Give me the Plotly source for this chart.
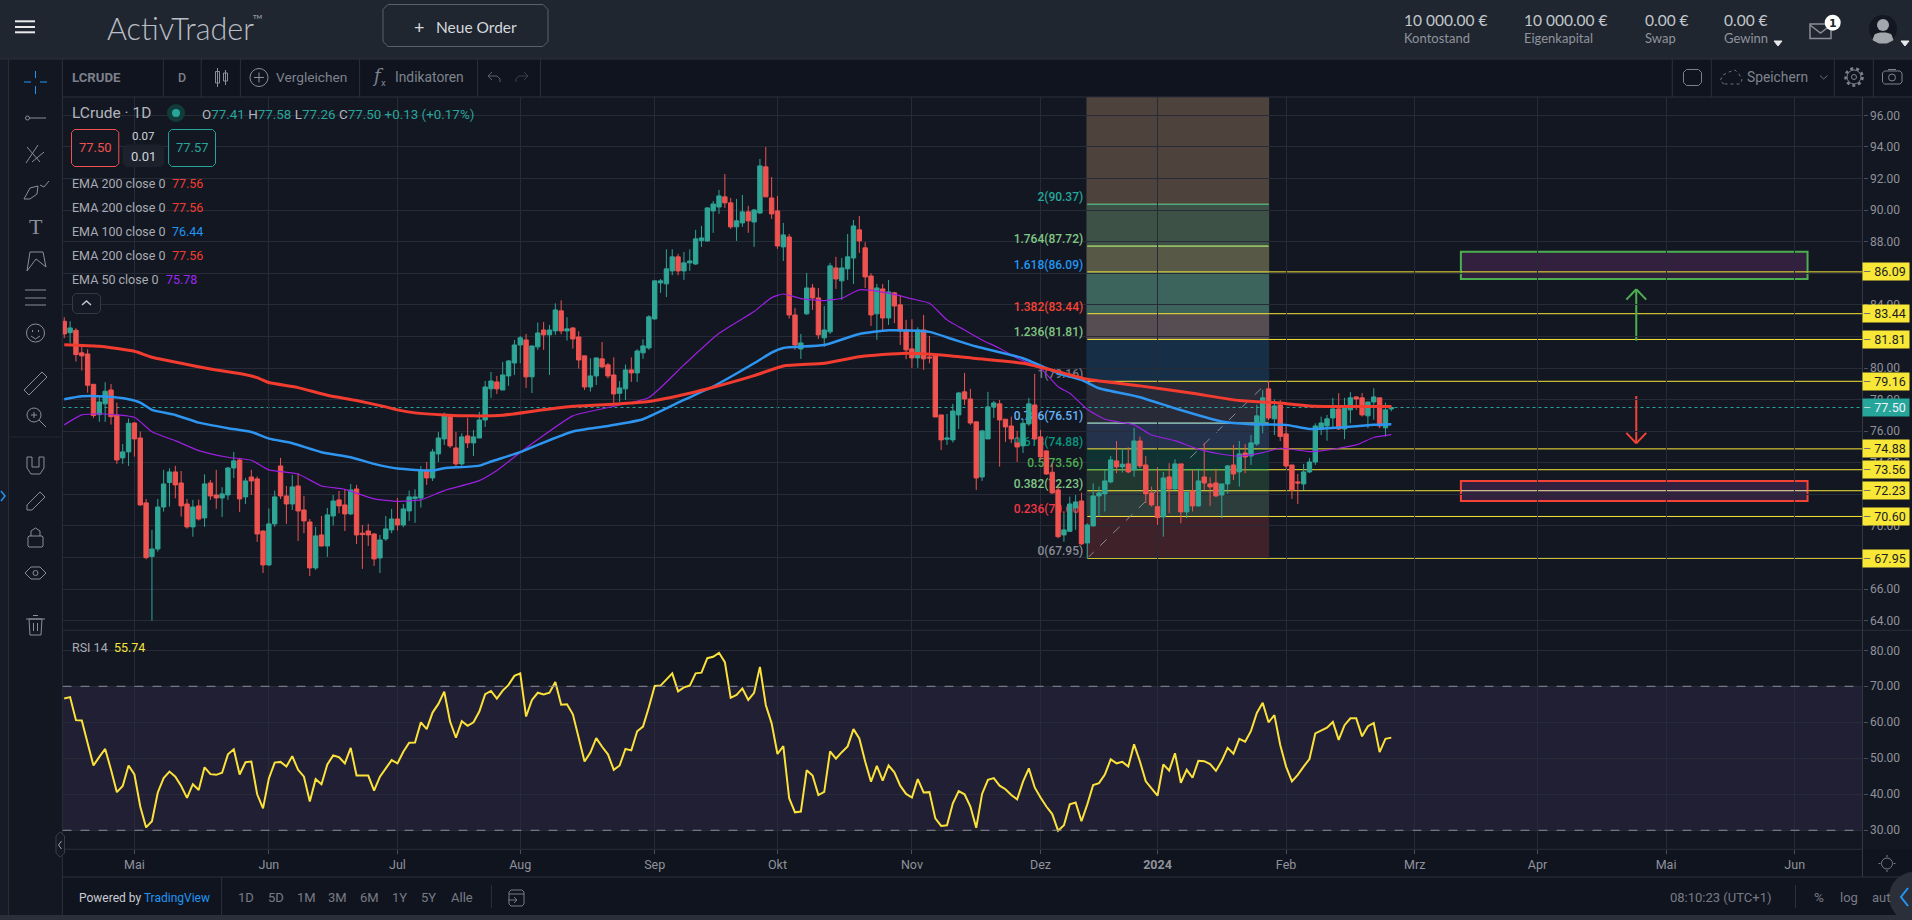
import plotly.graph_objects as go

W, H = 1912, 920

# daily candles, bar 0 is the first one at the left edge
opens = [
    82.96, 82.24, 82.39, 80.96, 80.89, 78.97, 77.05, 77.73, 78.61, 77.03,
    74.31, 74.69, 76.52, 75.57, 71.46, 68.06, 68.54, 71.20, 72.75, 73.42,
    72.72, 71.39, 69.94, 71.27, 70.51, 72.72, 71.96, 71.77, 71.96, 73.67,
    74.18, 71.84, 73.10, 72.98, 69.68, 67.53, 70.13, 73.80, 71.90, 71.39,
    72.53, 71.01, 70.25, 67.34, 69.43, 68.73, 70.63, 71.65, 71.33, 70.76,
    72.34, 69.54, 69.68, 69.49, 67.97, 69.18, 69.75, 70.44, 70.06, 70.95,
    71.73, 71.77, 73.55, 73.04, 74.56, 75.51, 76.97, 74.94, 73.93, 75.70,
    75.26, 75.57, 76.71, 78.68, 79.12, 78.61, 79.50, 80.32, 81.46, 81.78,
    79.44, 81.34, 82.41, 82.10, 82.35, 83.62, 82.35, 82.54, 81.97, 80.77,
    78.80, 79.50, 80.58, 80.20, 79.56, 78.40, 78.68, 79.88, 79.69, 80.96,
    81.27, 83.11, 85.39, 85.33, 86.15, 87.04, 86.15, 86.66, 86.59, 88.07,
    88.05, 89.95, 90.20, 90.84, 90.46, 88.94, 89.19, 89.89, 89.25, 89.82,
    92.74, 90.77, 89.95, 87.67, 88.30, 83.36, 81.21, 83.43, 85.07, 84.44,
    81.91, 82.29, 86.34, 85.52, 86.28, 86.97, 88.75, 87.61, 85.83, 83.43,
    85.01, 83.17, 84.76, 84.00, 82.41, 81.21, 80.64, 82.41, 80.70, 80.77,
    77.03, 75.49, 75.45, 77.03, 78.49, 78.04, 76.59, 73.10, 75.51, 77.54,
    77.73, 76.76, 76.33, 75.26, 75.07, 76.46, 77.66, 75.64, 74.75, 73.40,
    72.28, 69.43, 69.66, 71.14, 71.58, 68.92, 70.00, 71.90, 72.03, 72.79,
    74.12, 73.74, 73.93, 73.55, 75.38, 73.86, 72.09, 71.22, 70.57, 73.10,
    72.34, 73.93, 70.89, 72.22, 71.27, 73.10, 72.66, 72.72, 71.96, 72.66,
    73.86, 73.42, 74.62, 74.43, 75.19, 76.40, 78.68, 76.78, 77.66, 75.83,
    73.86, 72.79, 72.66, 73.42, 74.05, 76.14, 76.33, 76.84, 77.41, 76.14,
    77.35, 78.17, 78.11, 76.97, 77.85, 78.11, 76.21, 77.41,
]
highs = [
    83.22, 82.96, 82.52, 81.40, 81.19, 78.97, 78.25, 79.10, 78.99, 77.81,
    75.19, 76.80, 76.55, 75.98, 71.71, 69.75, 71.71, 73.55, 73.65, 73.80,
    73.48, 71.71, 71.65, 71.67, 73.27, 72.91, 73.55, 72.45, 73.74, 74.69,
    74.31, 73.04, 73.55, 73.13, 69.71, 71.10, 72.24, 74.31, 72.53, 73.23,
    73.34, 71.90, 70.44, 69.94, 70.63, 71.14, 71.96, 72.22, 72.34, 72.66,
    72.60, 70.06, 70.13, 69.54, 69.43, 70.63, 71.08, 71.77, 71.39, 72.24,
    72.32, 73.80, 74.05, 74.88, 75.95, 77.18, 77.03, 75.95, 75.87, 76.84,
    76.08, 77.22, 79.18, 79.75, 79.50, 80.39, 80.51, 81.78, 82.03, 82.16,
    81.40, 82.88, 82.92, 82.73, 84.10, 84.29, 83.22, 82.58, 82.33, 80.77,
    80.62, 80.66, 81.65, 80.32, 80.68, 79.18, 80.22, 80.68, 81.19, 81.82,
    83.34, 85.54, 85.64, 87.52, 87.52, 87.23, 87.35, 87.52, 88.75, 89.00,
    90.18, 90.58, 91.28, 92.29, 90.77, 90.71, 90.96, 90.27, 90.08, 93.24,
    94.00, 92.10, 90.90, 89.19, 88.49, 83.81, 82.16, 86.02, 85.33, 85.07,
    83.93, 86.66, 87.04, 86.97, 88.49, 89.38, 89.63, 87.97, 86.00, 85.33,
    85.33, 85.58, 84.82, 84.63, 83.05, 83.09, 82.58, 83.36, 82.03, 80.77,
    77.03, 77.09, 77.73, 78.49, 79.69, 78.68, 76.59, 76.08, 78.49, 77.92,
    77.98, 76.76, 76.93, 76.02, 76.76, 78.11, 79.63, 76.08, 74.81, 73.97,
    72.49, 70.80, 71.86, 71.96, 72.11, 70.17, 72.70, 72.49, 73.55, 74.43,
    75.38, 74.92, 74.98, 76.21, 75.66, 74.43, 72.49, 73.72, 73.42, 73.97,
    74.22, 73.93, 72.15, 73.55, 73.63, 75.24, 73.08, 73.63, 72.66, 73.86,
    75.13, 75.38, 75.19, 75.76, 77.68, 78.61, 79.18, 78.02, 77.98, 76.40,
    73.86, 73.29, 73.93, 74.29, 76.50, 76.92, 77.03, 78.11, 78.40, 78.11,
    78.47, 78.23, 78.42, 77.87, 78.72, 78.11, 77.81, 77.58,
]
lows = [
    81.89, 81.57, 80.41, 79.84, 78.44, 76.84, 76.59, 76.59, 76.42, 73.93,
    73.93, 73.80, 74.39, 71.27, 67.89, 64.00, 68.37, 70.91, 71.22, 71.75,
    70.59, 69.83, 69.32, 70.34, 69.94, 71.65, 71.08, 70.57, 71.65, 73.04,
    70.89, 71.39, 71.96, 68.99, 67.02, 67.47, 69.94, 71.71, 70.13, 71.01,
    69.05, 69.54, 66.83, 67.21, 68.69, 68.04, 70.04, 70.80, 69.68, 70.68,
    68.86, 67.28, 68.73, 67.47, 67.02, 69.05, 69.54, 69.71, 69.92, 70.32,
    70.19, 71.16, 72.60, 72.85, 74.05, 75.13, 74.94, 73.67, 73.80, 74.94,
    74.43, 75.57, 76.27, 78.11, 78.36, 78.61, 78.87, 79.56, 80.30, 78.74,
    78.42, 81.15, 81.15, 79.56, 82.10, 82.14, 81.74, 81.23, 79.97, 78.61,
    78.51, 78.93, 80.01, 79.35, 77.73, 77.85, 77.98, 79.12, 79.12, 80.58,
    81.15, 83.05, 84.76, 84.50, 85.88, 85.88, 85.58, 86.15, 86.53, 87.67,
    87.99, 88.56, 89.76, 90.14, 88.81, 88.05, 88.94, 88.56, 87.67, 89.76,
    90.84, 89.44, 87.54, 86.78, 83.13, 81.15, 80.58, 83.36, 83.68, 81.84,
    81.34, 82.16, 85.01, 84.31, 85.58, 85.33, 87.29, 85.07, 82.67, 81.78,
    82.31, 82.73, 82.84, 81.46, 80.56, 80.01, 80.01, 79.88, 80.30, 76.90,
    74.81, 75.13, 75.28, 76.14, 77.66, 76.40, 72.28, 72.85, 75.51, 76.84,
    73.76, 75.32, 75.24, 74.05, 74.62, 76.33, 75.45, 74.18, 73.23, 72.03,
    69.22, 69.00, 69.62, 69.75, 68.80, 67.95, 69.96, 70.59, 70.91, 72.70,
    73.34, 73.38, 73.34, 73.12, 73.65, 71.44, 71.22, 70.06, 69.32, 70.80,
    72.28, 70.17, 70.49, 70.91, 71.22, 72.28, 71.27, 71.82, 70.49, 72.03,
    72.91, 72.49, 73.34, 73.86, 75.07, 75.87, 76.71, 75.76, 75.38, 73.63,
    71.71, 71.39, 72.28, 73.34, 73.86, 75.76, 75.40, 76.19, 76.08, 75.49,
    76.50, 77.35, 76.93, 76.19, 76.72, 76.19, 75.66, 77.26,
]
closes = [
    82.16, 82.54, 80.85, 80.77, 78.91, 76.99, 77.85, 78.53, 76.92, 74.18,
    74.69, 76.50, 75.51, 71.33, 67.99, 68.54, 71.20, 72.66, 73.42, 72.60,
    71.27, 69.94, 71.20, 70.44, 72.66, 71.90, 71.77, 72.03, 73.67, 74.12,
    71.71, 72.85, 72.85, 69.49, 67.53, 70.13, 71.84, 71.90, 71.39, 72.47,
    70.95, 70.32, 67.34, 69.37, 68.73, 70.70, 71.58, 71.27, 70.76, 72.28,
    69.43, 69.45, 69.43, 67.91, 69.11, 69.81, 70.44, 70.06, 71.08, 71.84,
    71.84, 73.55, 73.04, 74.69, 75.57, 77.03, 75.07, 73.93, 75.64, 75.26,
    75.64, 76.71, 78.80, 79.18, 78.68, 79.56, 80.45, 81.46, 81.91, 79.44,
    81.40, 82.22, 82.10, 82.41, 83.68, 82.35, 82.48, 81.84, 80.51, 78.80,
    79.50, 80.64, 80.07, 79.50, 78.36, 78.74, 79.88, 79.69, 81.08, 81.40,
    83.24, 85.52, 85.52, 86.28, 87.04, 86.15, 86.66, 86.78, 88.18, 88.24,
    90.14, 90.39, 90.90, 90.46, 88.94, 89.32, 89.89, 89.32, 90.01, 92.80,
    90.84, 89.76, 87.73, 88.43, 83.36, 81.46, 81.59, 85.07, 84.44, 82.10,
    82.41, 86.47, 85.64, 86.34, 87.04, 89.00, 88.05, 85.77, 83.36, 85.07,
    83.17, 84.82, 83.93, 82.35, 81.15, 80.64, 82.41, 80.58, 80.64, 76.90,
    75.45, 75.57, 77.28, 78.42, 78.04, 76.52, 73.04, 76.02, 77.54, 77.79,
    76.71, 76.27, 75.51, 75.00, 76.50, 77.73, 75.51, 74.37, 73.29, 72.09,
    69.32, 69.75, 71.39, 71.52, 68.86, 70.06, 71.90, 72.09, 72.85, 74.18,
    73.74, 73.91, 73.42, 75.38, 73.80, 72.03, 71.33, 70.53, 73.04, 72.34,
    73.93, 70.89, 72.15, 71.27, 72.85, 72.72, 72.47, 71.90, 72.66, 73.80,
    73.29, 74.56, 74.37, 75.26, 76.97, 78.11, 76.84, 77.60, 75.66, 73.80,
    72.28, 72.72, 73.42, 74.05, 76.33, 76.52, 76.78, 77.41, 76.14, 77.47,
    78.11, 78.04, 77.03, 77.85, 78.17, 76.33, 77.35, 77.50,
]

rsi = [
    66.6, 67.0, 60.6, 60.5, 54.2, 48.0, 50.4, 52.6, 46.8, 40.6,
    42.3, 48.0, 45.5, 36.6, 30.8, 32.5, 40.5, 44.5, 46.3, 44.9,
    42.3, 39.0, 42.8, 41.2, 47.5, 45.6, 45.4, 46.0, 51.1, 52.5,
    45.5, 48.9, 49.1, 40.0, 36.1, 44.4, 48.8, 49.0, 47.7, 50.6,
    46.8, 44.9, 38.0, 44.2, 42.8, 48.3, 50.8, 50.3, 48.6, 52.9,
    45.2, 45.2, 45.2, 41.0, 44.9, 47.2, 49.5, 48.6, 51.8, 54.3,
    54.4, 60.0, 58.1, 62.7, 65.1, 68.5, 60.2, 55.7, 60.3, 59.0,
    60.0, 63.0, 67.8, 68.7, 66.6, 68.8, 70.4, 72.9, 73.6, 61.6,
    66.2, 68.2, 67.7, 68.2, 71.2, 64.9, 65.0, 62.2, 55.5, 49.1,
    51.6, 55.6, 53.2, 51.1, 46.8, 48.0, 52.6, 52.2, 57.5, 58.8,
    64.2, 70.1, 70.2, 71.9, 73.6, 68.6, 69.7, 70.2, 73.6, 73.8,
    77.8, 78.2, 79.3, 76.7, 66.8, 67.6, 69.4, 66.2, 68.2, 75.4,
    64.8, 59.7, 51.2, 53.4, 38.9, 35.0, 35.2, 46.7, 45.2, 39.8,
    40.7, 51.9, 49.9, 51.7, 53.3, 58.1, 55.5, 49.1, 43.5, 47.9,
    43.8, 48.0, 46.1, 42.4, 40.1, 39.1, 44.2, 40.5, 40.6, 33.3,
    31.2, 31.4, 37.5, 40.9, 40.0, 36.6, 30.7, 40.1, 44.0, 44.5,
    42.4, 41.4, 39.8, 38.6, 43.5, 47.2, 41.9, 39.1, 36.6, 34.5,
    29.9, 31.4, 37.2, 37.7, 32.5, 37.2, 42.6, 43.1, 45.5, 49.7,
    48.6, 49.0, 47.7, 53.9, 49.1, 43.6, 41.7, 39.6, 48.3, 46.6,
    51.4, 43.2, 46.8, 44.6, 49.3, 49.2, 48.4, 46.5, 49.3, 52.9,
    51.3, 55.4, 54.6, 57.6, 62.6, 65.4, 60.0, 62.0, 53.7, 47.7,
    43.6, 45.4, 47.7, 49.8, 56.9, 57.6, 58.5, 60.1, 55.1, 59.2,
    61.1, 61.1, 56.1, 58.9, 59.8, 51.7, 55.4, 55.74,
]

ema200_bars = [0, 6, 12, 15, 20, 25, 30, 33, 35, 40, 45, 50, 55, 57, 60, 65, 70, 75, 81, 87, 94, 100,
               107, 111, 118, 123, 130, 136, 144, 150, 156, 164, 170, 175, 184, 193, 201, 207, 213, 218, 227]
ema200 = [81.48, 81.38, 81.06, 80.68, 80.30, 79.94, 79.65, 79.39, 79.08, 78.76, 78.28, 77.94, 77.54, 77.35,
          77.16, 77.03, 76.97, 77.01, 77.31, 77.58, 77.71, 77.88, 78.40, 78.78, 79.52, 80.13, 80.30, 80.72,
          80.94, 80.83, 80.60, 80.30, 79.77, 79.29, 78.87, 78.40, 77.94, 77.81, 77.60, 77.56, 77.56]
ema100_bars = [0, 3, 7, 11, 13, 15, 19, 23, 28, 32, 35, 39, 44, 49, 53, 57, 63, 65, 71, 73, 78, 81, 87, 93, 99,
               106, 111, 118, 121, 123, 130, 136, 141, 148, 152, 156, 164, 170, 174, 177, 184, 190, 198, 203,
               209, 213, 218, 224, 227]
ema100 = [78.02, 78.21, 78.19, 78.02, 77.81, 77.35, 77.03, 76.54, 76.19, 75.95, 75.53, 75.24, 74.67, 74.35,
          73.93, 73.63, 73.51, 73.65, 73.82, 74.08, 74.67, 75.13, 75.98, 76.33, 76.76, 77.98, 78.83, 80.30,
          80.98, 81.27, 81.46, 82.16, 82.39, 82.29, 81.82, 81.36, 80.62, 79.67, 79.25, 78.72, 78.15, 77.45,
          76.61, 76.44, 76.40, 76.14, 76.23, 76.40, 76.44]
ema50_bars = [0, 3, 7, 12, 15, 19, 23, 28, 32, 35, 40, 44, 48, 53, 57, 61, 65, 71, 74, 78, 81, 87, 93, 100, 106,
              112, 118, 121, 123, 126, 130, 133, 136, 141, 145, 148, 151, 154, 157, 160, 163, 167, 170, 172,
              175, 178, 183, 186, 190, 194, 198, 201, 205, 208, 213, 215, 221, 224, 227]
ema50 = [76.40, 77.03, 77.09, 76.88, 75.97, 75.40, 74.77, 74.35, 74.16, 73.55, 73.29, 72.53, 72.32, 71.71,
         71.56, 71.65, 72.24, 72.87, 73.51, 74.65, 75.47, 76.97, 77.50, 78.13, 80.20, 82.20, 83.58, 84.46,
         84.69, 84.40, 84.27, 84.42, 84.95, 84.74, 84.38, 84.10, 83.05, 82.41, 81.78, 81.25, 80.62, 79.99,
         78.82, 78.40, 77.39, 76.76, 76.40, 75.76, 75.40, 74.86, 74.54, 74.43, 74.64, 74.92, 74.71, 74.75,
         75.13, 75.60, 75.78]

month_bars = [12, 35, 57, 78, 101, 122, 145, 167, 187, 209, 231, 252, 274, 296]
month_labels = ["Mai", "Jun", "Jul", "Aug", "Sep", "Okt", "Nov", "Dez", "<b>2024</b>", "Feb", "Mrz", "Apr", "Mai", "Jun"]
price_ticks = [64, 66, 68, 70, 72, 74, 76, 78, 80, 82, 84, 86, 88, 90, 92, 94, 96]
rsi_ticks = [30, 40, 50, 60, 70, 80]

fib_ratios = ["2", "1.764", "1.618", "1.382", "1.236", "1", "0.786", "0.618", "0.5", "0.382", "0.236", "0"]
fib_levels = [90.37, 87.72, 86.09, 83.44, 81.81, 79.16, 76.51, 74.88, 73.56, 72.23, 70.60, 67.95]
fib_label_colors = ["#26a69a", "#81c784", "#2196f3", "#f44336", "#81c784", "#787b86",
                    "#64b5f6", "#089981", "#4caf50", "#81c784", "#f23645", "#8a8d96"]
fib_zone_colors = ["#51453e", "#3f5449", "#5b5c47", "#40685f", "#585053", "#183049",
                   "#2a2c38", "#27344e", "#103534", "#213a30", "#2f3f3c", "#42222a"]
yellow_levels = [86.09, 83.44, 81.81, 79.16, 74.88, 73.56, 72.23, 70.60, 67.95]

FIB_START, FIB_END = 175, 206
LAST_BAR = 227
X_RANGE = [-0.3, 307.6]
PRICE_RANGE = [63.39, 97.165]
RSI_RANGE = [24.72, 85.36]

BG = "#131722"
GRID = "#272b37"
HEADER = "#1f2630"
TOOLBAR = "#10141f"
SEP = "#2c303c"
GRAY = "#8a8e98"
LIGHT = "#b2b5be"
UP = "#2fa596"
DOWN = "#ef5350"
YELLOW = "#f8e737"
TEAL = "#26a69a"


def fx(x):
    return x / W


def fy(y):
    return 1 - y / H


shapes = []
notes = []


def rect(x0, y0, x1, y1, fill="rgba(0,0,0,0)", line=None, width=1, layer="above"):
    shapes.append(dict(type="rect", xref="paper", yref="paper", x0=fx(x0), x1=fx(x1), y0=fy(y0), y1=fy(y1),
                       fillcolor=fill, line=dict(color=line or fill, width=width if line else 0), layer=layer))


def seg(x0, y0, x1, y1, color=SEP, width=1, layer="above"):
    shapes.append(dict(type="line", xref="paper", yref="paper", x0=fx(x0), x1=fx(x1), y0=fy(y0), y1=fy(y1),
                       line=dict(color=color, width=width), layer=layer))


def circle(cx, cy, r, fill="rgba(0,0,0,0)", line=None, width=1, dash="solid"):
    shapes.append(dict(type="circle", xref="paper", yref="paper", x0=fx(cx - r), x1=fx(cx + r),
                       y0=fy(cy - r), y1=fy(cy + r), fillcolor=fill,
                       line=dict(color=line or fill, width=width if line else 0, dash=dash), layer="above"))


def poly(pts, color=GRAY, width=1, fill=None, closed=False):
    d = "M" + " L".join(f"{fx(x):.5f},{fy(y):.5f}" for x, y in pts) + (" Z" if closed else "")
    shapes.append(dict(type="path", xref="paper", yref="paper", path=d, layer="above",
                       fillcolor=fill or "rgba(0,0,0,0)", line=dict(color=color, width=width)))


def round_rect(x0, y0, x1, y1, r=4, line=GRAY, fill=None, width=1):
    pts = [(x0 + r, y0), (x1 - r, y0), (x1, y0 + r), (x1, y1 - r), (x1 - r, y1), (x0 + r, y1), (x0, y1 - r), (x0, y0 + r)]
    poly(pts, line, width, fill, True)


def txt(x, y, s, size=12, color=LIGHT, anchor="left", family="Roboto", weight=None):
    font = dict(family=family, size=size, color=color)
    if weight:
        font["weight"] = weight
    notes.append(dict(xref="paper", yref="paper", x=fx(x), y=fy(y), text=s, showarrow=False, xanchor=anchor,
                      yanchor="middle", font=font, borderpad=0, borderwidth=0))


# ---- window chrome ----
rect(0, 0, W, 59, HEADER, layer="below")
rect(0, 59, 8.6, 915, "#171b27", layer="below")
rect(8.6, 59, 62.4, 915, "#131722", layer="below")
rect(62.4, 59, W, 97, TOOLBAR, layer="below")
rect(62.4, 849, W, 915, TOOLBAR, layer="below")
rect(0, 915, W, H, "#2a2f3a", layer="below")
rect(1863, 97, W, 849, "#131722", layer="below")

seg(0, 59, W, 59, "#2c313b")
seg(8.6, 59, 8.6, 915)
seg(62.4, 59, 62.4, 915)
seg(62.4, 97, W, 97)
seg(62.4, 877, W, 877)
seg(62.4, 630.3, W, 630.3, "#2a2e3a")
seg(62.4, 849.3, 1862.5, 849.3, "#2a2e3a")
seg(1862.5, 97, 1862.5, 877, "#343844")
for x in [163.3, 201.2, 240.4, 359.6, 477.6, 540.4, 1672.3, 1711.3, 1834.3, 1873.3]:
    seg(x, 59, x, 97)
seg(221.6, 877, 221.6, 915)
seg(491.4, 885, 491.4, 908)
seg(1795.5, 885, 1795.5, 908)

# top bar
for y in (21.3, 27, 32.3):
    seg(15, y, 35, y, "#e8e9eb", 2)
txt(107, 28, "ActivTrader", 30.5, "#b9bdc4", family="Lato", weight=300)
txt(253, 17, "TM", 6, "#b9bdc4", family="Lato")
round_rect(383, 4.5, 548, 46.5, 5, "#5b6270")
txt(419, 27, "+", 18, "#d5d8dc", "center", "Lato")
txt(436, 27, "Neue Order", 15.5, "#d5d8dc", family="Lato")
for x, val, lab in [(1404, "10 000.00 €", "Kontostand"), (1524, "10 000.00 €", "Eigenkapital"),
                    (1644.5, "0.00 €", "Swap"), (1723.5, "0.00 €", "Gewinn")]:
    txt(x, 19.5, val, 15.5, "#c3c6cb", family="Lato")
    txt(x, 37.5, lab, 13, "#8f949c", family="Lato")
for x in (1778, 1905):
    poly([(x - 4, 41), (x + 4, 41), (x, 46)], "#e8e9eb", 1, "#e8e9eb", True)
poly([(1810, 24), (1831, 24), (1831, 38.5), (1810, 38.5)], "#8a8e96", 1.5, closed=True)
poly([(1810, 25), (1820.5, 33), (1831, 25)], "#8a8e96", 1.5)
circle(1832.7, 22.7, 8, "#ffffff")
txt(1832.7, 23, "1", 11, "#1f2630", "center", "DejaVu Sans", weight=700)
circle(1883, 29, 14, "#131722")
circle(1883, 25, 6, "#a2a7ae")
poly([(1873, 40), (1875, 34.5), (1880, 33), (1886, 33), (1891, 34.5), (1893, 40), (1887, 43), (1879, 43)],
     "#a2a7ae", 1, "#a2a7ae", True)

# toolbar row
txt(72, 77.5, "LCRUDE", 13.2, "#7c808a", weight=700)
txt(182.4, 77.5, "D", 12.5, "#7c808a", "center", weight=500)
seg(217.5, 68, 217.5, 87, GRAY)
rect(215.5, 71.5, 219.5, 83, line=GRAY)
seg(225.5, 70, 225.5, 85, GRAY)
rect(223.5, 73, 227.5, 81, line=GRAY)
circle(259, 77.5, 9, line=GRAY)
seg(254, 77.5, 264, 77.5, GRAY)
seg(259, 72.5, 259, 82.5, GRAY)
txt(276, 77.5, "Vergleichen", 13.7, "#7f838d")
txt(372, 76, "<i>f</i>", 18, "#7f838d", family="DejaVu Serif")
txt(381, 82.5, "x", 9.5, "#7f838d")
txt(395, 77.5, "Indikatoren", 13.8, "#7f838d")
poly([(488, 76), (492, 72), (488, 76), (492, 80)], "#5c606a")
poly([(488, 76), (497, 76), (500, 79), (500, 82)], "#5c606a")
poly([(528, 76), (524, 72), (528, 76), (524, 80)], "#3b3f4a")
poly([(528, 76), (519, 76), (516, 79), (516, 82)], "#3b3f4a")
round_rect(1683.5, 69.5, 1701.5, 85.5, 3, "#7c808a")
shapes.append(dict(type="path", xref="paper", yref="paper", layer="above", line=dict(color="#6a6e78", width=1, dash="dot"),
                   path="M" + " L".join(f"{fx(x):.5f},{fy(y):.5f}" for x, y in
                                        [(1724, 84), (1720, 81), (1723, 75), (1729, 72), (1735, 70),
                                         (1739, 74), (1742, 80), (1740, 84)]) + " Z"))
txt(1746.5, 77.5, "Speichern", 13.8, "#7f838d")
poly([(1820, 75.5), (1823.7, 79), (1827.5, 75.5)], "#6a6e78")
circle(1854, 77, 8.5, line="#7f838d", width=2.5, dash="dot")
circle(1854, 77, 7, line="#7f838d")
circle(1854, 77, 2.5, line="#7f838d")
round_rect(1882.5, 71, 1902, 84, 2, "#7f838d")
circle(1892, 77.5, 3.5, line="#7f838d")
seg(1888, 69.5, 1896, 69.5, "#7f838d")

# left tools
seg(35.5, 71, 35.5, 78, "#2196f3")
seg(35.5, 86, 35.5, 94, "#2196f3")
seg(24, 82, 31, 82, "#2196f3")
seg(40, 82, 47, 82, "#2196f3")
circle(27.5, 118, 2, line=GRAY)
seg(29.5, 118, 46, 118, GRAY)
seg(26, 163, 38, 145, GRAY)
seg(32, 162, 44, 152, GRAY)
seg(27, 147, 40, 162, GRAY)
poly([(24, 199), (30, 188), (38, 186), (37, 194), (30, 199), (24, 199)], GRAY)
poly([(40, 185), (44, 187), (49, 181)], GRAY)
txt(35.5, 226, "T", 22, GRAY, "center", "Liberation Serif")
poly([(27, 271), (30, 252), (43, 252), (46, 267), (36, 259), (27, 271)], GRAY)
seg(25, 290, 46, 290, GRAY)
seg(25, 298, 46, 298, GRAY)
seg(25, 305, 46, 305, GRAY)
circle(35.5, 333, 9, line=GRAY)
seg(32, 331, 33, 331, GRAY, 2)
seg(38, 331, 39, 331, GRAY, 2)
poly([(31, 336), (35.5, 339), (40, 336)], GRAY)
poly([(24, 390), (42, 372), (47, 377), (29, 395)], GRAY, closed=True)
circle(34, 415, 7, line=GRAY)
seg(39, 420, 46, 427, GRAY)
seg(31, 415, 37, 415, GRAY)
seg(34, 412, 34, 418, GRAY)
seg(8.6, 437, 62, 437, "#22262f")
poly([(27, 457), (27, 468), (31, 474), (40, 474), (44, 468), (44, 457), (39, 457), (39, 467), (32, 467), (32, 457)], GRAY, closed=True)
poly([(27, 510), (27, 505), (40, 492), (45, 497), (32, 510)], GRAY, closed=True)
round_rect(28, 536, 43, 547, 1, GRAY)
poly([(31, 536), (31, 531), (35.5, 528), (40, 531), (40, 536)], GRAY)
poly([(25, 573), (31, 567), (40, 567), (46, 573), (40, 579), (31, 579)], GRAY, closed=True)
circle(35.5, 573, 2.5, line=GRAY)
poly([(29, 619), (42, 619), (41, 635), (30, 635)], GRAY, closed=True)
seg(26, 619, 45, 619, GRAY)
seg(33, 615.5, 38, 615.5, GRAY)
seg(33.5, 623, 33.5, 631, GRAY)
seg(37.5, 623, 37.5, 631, GRAY)
poly([(1, 491), (5, 496), (1, 501)], "#2196f3", 1.5)

# legend block
txt(72, 113, "LCrude · 1D", 15.5, "#b2b5be")
circle(176, 113, 9, "#123c3a")
circle(176, 113, 4, TEAL)
txt(201.5, 114.5, ("<span style='color:#b2b5be'>O</span>77.41 <span style='color:#b2b5be'>H</span>77.58 "
                   "<span style='color:#b2b5be'>L</span>77.26 <span style='color:#b2b5be'>C</span>77.50 +0.13 (+0.17%)"),
    13.4, TEAL)
round_rect(71.5, 129.5, 118.8, 166.5, 3, DOWN, "#131722")
txt(95, 148, "77.50", 13, DOWN, "center")
txt(143.3, 136, "0.07", 11.5, "#d1d4dc", "center")
round_rect(123, 145, 163.7, 166.5, 3, "#1d212c", "#1d212c")
txt(143.3, 156, "0.01", 13, "#d1d4dc", "center")
round_rect(168.6, 129.5, 215.5, 166.5, 3, TEAL, "#131722")
txt(192, 148, "77.57", 13, TEAL, "center")
for y, name, value, vx, color in [(183.7, "EMA 200 close 0", "77.56", 172, "#f23c30"),
                                  (207.7, "EMA 200 close 0", "77.56", 172, "#f23c30"),
                                  (231.7, "EMA 100 close 0", "76.44", 172, "#2196f3"),
                                  (255.7, "EMA 200 close 0", "77.56", 172, "#f23c30"),
                                  (279.7, "EMA 50 close 0", "75.78", 165.7, "#9c27f0")]:
    txt(72, y, name, 12.5, "#a8abb3")
    txt(vx, y, value, 12.5, color)
round_rect(72.5, 293.5, 100.5, 313.5, 3, "#363a45", "#151925")
poly([(82, 305), (86.5, 301), (91, 305)], "#c4c7cd", 1.5)

txt(72, 647.5, "RSI 14 &nbsp;<span style='color:#f7e33b'>55.74</span>", 12.5, "#a8abb3")

round_rect(56, 832, 64.5, 857, 4, "#3a3e4a", "#151925")
poly([(61.5, 841), (58.5, 845), (61.5, 849)], "#a0a4ac")

# bottom bar
txt(79, 898, "Powered by <span style='color:#2196f3'>TradingView</span>", 12, "#c9ccd2")
for x, s in [(246, "1D"), (275.5, "5D"), (306.5, "1M"), (337.5, "3M"), (369, "6M"), (399, "1Y"), (428.6, "5Y"), (462, "Alle")]:
    txt(x, 897, s, 13, "#787b86", "center")
round_rect(509, 890, 524, 906, 2, "#787b86")
seg(509, 894, 524, 894, "#787b86")
poly([(508, 900), (517, 900), (514, 897), (517, 900), (514, 903)], "#787b86")
txt(1670, 897, "08:10:23 (UTC+1)", 13, "#787b86")
txt(1819, 897, "%", 13.5, "#787b86", "center")
txt(1849, 897, "log", 13, "#787b86", "center")
txt(1872, 897, "aut", 13, "#787b86")
circle(1914, 897, 25, "#2a2f3a")
poly([(1908, 888), (1901, 897), (1908, 906)], "#2196f3", 2)
circle(1887, 863.5, 5.5, line="#787b86")
for x0, y0, x1, y1 in [(1887, 855, 1887, 857), (1887, 870, 1887, 872), (1878.5, 863.5, 1880.5, 863.5), (1893.5, 863.5, 1895.5, 863.5)]:
    seg(x0, y0, x1, y1, "#787b86")

# ---- chart drawings, in chart coordinates ----


def dline(x0, y0, x1, y1, color, width=1, dash=None, xref="x", yref="y", layer="below"):
    shapes.append(dict(type="line", xref=xref, yref=yref, x0=x0, x1=x1, y0=y0, y1=y1,
                       line=dict(color=color, width=width, dash=dash or "solid"), layer=layer))


def drect(x0, y0, x1, y1, fill, line=None, width=0, xref="x", yref="y", layer="below"):
    shapes.append(dict(type="rect", xref=xref, yref=yref, x0=x0, x1=x1, y0=y0, y1=y1, fillcolor=fill,
                       line=dict(color=line or fill, width=width), layer=layer))


zone_tops = [PRICE_RANGE[1]] + fib_levels[:-1]
for top, bottom, color in zip(zone_tops, fib_levels, fib_zone_colors):
    drect(FIB_START - 0.15, bottom, FIB_END + 0.1, top, color)
    shapes[-1]["opacity"] = 0.96

for level in fib_levels:
    dline(FIB_START, level, FIB_END, level, YELLOW)
dline(FIB_START, 90.37, FIB_END, 90.37, "#26a69a")
dline(FIB_START, 87.72, FIB_END, 87.72, "#81c784")
dline(FIB_START, 76.51, FIB_END, 76.51, "#64b5f6")
dline(FIB_START, 73.56, FIB_END, 73.56, "#4caf50")
dline(FIB_START, 67.95, FIB_END, 79.16, "#8a8d96", 1, "dash")

for level in yellow_levels:
    dline(FIB_END, level, X_RANGE[1], level, YELLOW)

dline(X_RANGE[0], closes[-1], X_RANGE[1], closes[-1], TEAL, 1, "dot")

drect(238.9, 85.64, 298.2, 87.37, "#33203f", "#4caf50", 2)
drect(238.9, 71.58, 298.2, 72.85, "#33203f", "#f44336", 2)
dline(238.9, 86.09, 298.2, 86.09, YELLOW)
dline(238.9, 72.23, 298.2, 72.23, "#f7e9a8")

dline(268.9, 81.73, 268.9, 84.99, "#4caf50", 2)
dline(268.9, 84.99, 267.2, 84.33, "#4caf50", 2)
dline(268.9, 84.99, 270.6, 84.33, "#4caf50", 2)
dline(268.9, 78.23, 268.9, 75.23, "#f44336", 2)
dline(268.9, 75.23, 267.2, 75.89, "#f44336", 2)
dline(268.9, 75.23, 270.6, 75.89, "#f44336", 2)

# RSI band
drect(X_RANGE[0], 30, X_RANGE[1], 70, "#201f33", xref="x2", yref="y2")
dline(X_RANGE[0], 70, X_RANGE[1], 70, "#8a8d96", 1, "dash", "x2", "y2", "above")
dline(X_RANGE[0], 30, X_RANGE[1], 30, "#8a8d96", 1, "dash", "x2", "y2", "above")

# price tags on the right axis, the dash in each one is the axis tick
for level in yellow_levels:
    notes.append(dict(xref="paper", yref="y", x=fx(1862), y=level, xanchor="left", yanchor="middle",
                      text=f"<span style='color:#6a6d75'>–</span> {level:.2f}", showarrow=False, bgcolor=YELLOW,
                      width=46, height=17, borderpad=0, align="left",
                      font=dict(family="Roboto", size=12.5, color="#1a1d24")))
notes.append(dict(xref="paper", yref="y", x=fx(1862), y=closes[-1], xanchor="left", yanchor="middle",
                  text=f"<span style='color:#c9d6d4'>–</span> {closes[-1]:.2f}", showarrow=False, bgcolor=TEAL,
                  width=46, height=17, borderpad=0, align="left",
                  font=dict(family="Roboto", size=12.5, color="#f0f3fa")))

bars = list(range(len(closes)))

fig = go.Figure()
# fib labels live on the base axes so the candles cover them, as in the original
fig.add_trace(go.Scatter(
    x=[FIB_START - 0.7] * len(fib_levels), y=fib_levels, mode="text",
    text=[f"{r}({v:.2f})" for r, v in zip(fib_ratios, fib_levels)],
    textposition="top left", textfont=dict(family="Roboto", size=12, color=fib_label_colors, weight=500),
    xaxis="x", yaxis="y", hoverinfo="skip", showlegend=False))
fig.add_trace(go.Candlestick(
    x=bars, open=opens, high=highs, low=lows, close=closes, xaxis="x3", yaxis="y3", showlegend=False,
    whiskerwidth=0,
    increasing=dict(line=dict(color=UP, width=1), fillcolor=UP),
    decreasing=dict(line=dict(color=DOWN, width=1), fillcolor=DOWN)))
fig.add_trace(go.Scatter(x=ema50_bars, y=ema50, mode="lines", xaxis="x3", yaxis="y3", showlegend=False,
                         line=dict(color="#9c1fe0", width=1.2, shape="spline", smoothing=0.5)))
fig.add_trace(go.Scatter(x=ema100_bars, y=ema100, mode="lines", xaxis="x3", yaxis="y3", showlegend=False,
                         line=dict(color="#2e96f0", width=2.5, shape="spline", smoothing=0.5)))
fig.add_trace(go.Scatter(x=ema200_bars, y=ema200, mode="lines", xaxis="x3", yaxis="y3", showlegend=False,
                         line=dict(color="#f23c30", width=3, shape="spline", smoothing=0.5)))
fig.add_trace(go.Scatter(x=bars, y=rsi, mode="lines", xaxis="x2", yaxis="y2", showlegend=False,
                         line=dict(color="#fbe13a", width=2)))

x_domain = [fx(62.5), fx(1862.5)]
tick_font = dict(family="Roboto", size=12, color="#8f929b")
fig.update_layout(
    width=W, height=H, margin=dict(l=0, r=0, t=0, b=0), autosize=False,
    paper_bgcolor=BG, plot_bgcolor=BG, showlegend=False, boxgap=0.25, boxgroupgap=0,
    shapes=shapes, annotations=notes,
    xaxis=dict(domain=x_domain, range=X_RANGE, anchor="y", tickmode="array", tickvals=month_bars, ticktext=[""] * 14,
               showgrid=True, gridcolor=GRID, gridwidth=1, zeroline=False, showline=False, ticks=""),
    yaxis=dict(domain=[fy(630.3), fy(97)], range=PRICE_RANGE, anchor="x", side="right", tickmode="array",
               tickvals=price_ticks, tickformat=".2f", tickfont=tick_font, gridcolor=GRID, zeroline=False,
               ticks="outside", ticklen=4, tickcolor="#4a4e5a"),
    xaxis3=dict(overlaying="x", range=X_RANGE, visible=False, rangeslider=dict(visible=False), anchor="y3"),
    yaxis3=dict(overlaying="y", range=PRICE_RANGE, visible=False, anchor="x3"),
    xaxis2=dict(domain=x_domain, range=X_RANGE, anchor="y2", tickmode="array", tickvals=month_bars, ticktext=month_labels,
                tickfont=dict(family="Roboto", size=12.5, color="#8f929b"), gridcolor=GRID, zeroline=False,
                ticks="outside", ticklen=4, tickcolor="#4a4e5a"),
    yaxis2=dict(domain=[fy(849.3), fy(631)], range=RSI_RANGE, anchor="x2", side="right", tickmode="array",
                tickvals=rsi_ticks, tickformat=".2f", tickfont=tick_font, gridcolor=GRID, zeroline=False,
                ticks="outside", ticklen=4, tickcolor="#4a4e5a"),
)

fig.write_html("out.html", config=dict(displayModeBar=False),
               post_script="document.body.style.margin='0';document.body.style.overflow='hidden';")
